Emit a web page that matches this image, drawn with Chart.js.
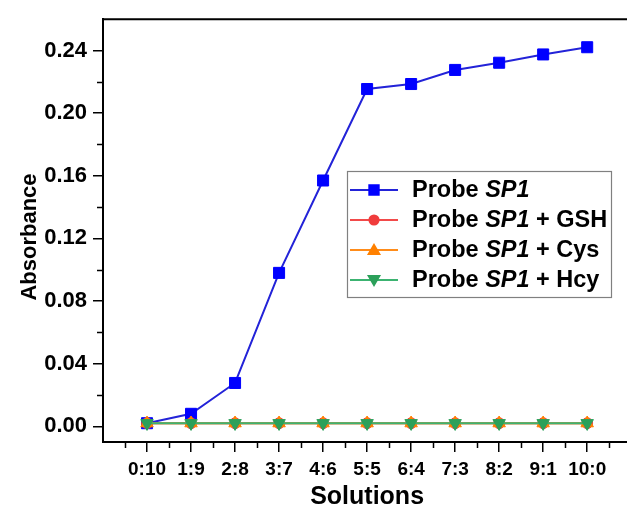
<!DOCTYPE html>
<html>
<head>
<meta charset="utf-8">
<script src="https://cdn.jsdelivr.net/npm/chart.js@4.4.1/dist/chart.umd.min.js"></script>
<style>
  html, body { margin: 0; padding: 0; overflow: hidden; background: #fff; }
</style>
</head>
<body>
<canvas id="absChart" width="640" height="511"></canvas>
<script>
// x categories (volume ratio) and absorbance readings
const solutions = ['0:10', '1:9', '2:8', '3:7', '4:6', '5:5', '6:4', '7:3', '8:2', '9:1', '10:0'];
const probeSP1 = [0.002, 0.008, 0.0277, 0.098, 0.157, 0.2154, 0.2186, 0.2276, 0.2322, 0.2375, 0.2421];
const probeGSH = [0.002, 0.002, 0.002, 0.002, 0.002, 0.002, 0.002, 0.002, 0.002, 0.002, 0.002];
const probeCys = [0.002, 0.002, 0.002, 0.002, 0.002, 0.002, 0.002, 0.002, 0.002, 0.002, 0.002];
const probeHcy = [0.002, 0.002, 0.002, 0.002, 0.002, 0.002, 0.002, 0.002, 0.002, 0.002, 0.002];

const yTicks = [0, 0.04, 0.08, 0.12, 0.16, 0.20, 0.24];
const yMinorTicks = [0.02, 0.06, 0.10, 0.14, 0.18, 0.22];
const xMinorTicks = [-0.5, 0.5, 1.5, 2.5, 3.5, 4.5, 5.5, 6.5, 7.5, 8.5, 9.5, 10.5];

const FONT = '"Liberation Sans", Arial, sans-serif';

const series = [
    { name: ['Probe ', 'SP1', ''], data: probeSP1, line: '#2323d8', fill: '#0000ff', style: 'rect', radius: 7.8, rot: 0, order: 3 },
    { name: ['Probe ', 'SP1', ' + GSH'], data: probeGSH, line: '#f24a4a', fill: '#f03c3c', style: 'circle', radius: 5.4, rot: 0, order: 2 },
    { name: ['Probe ', 'SP1', ' + Cys'], data: probeCys, line: '#ff8c1a', fill: '#ff8000', style: 'triangle', radius: 7.2, rot: 0, order: 1 },
    { name: ['Probe ', 'SP1', ' + Hcy'], data: probeHcy, line: '#3cb371', fill: '#2ca05a', style: 'triangle', radius: 7.2, rot: 180, order: 0 }
];

// box top/right edge, minor ticks, y title and the legend
const extras = {
    id: 'extras',
    afterDraw(chart) {
        const ctx = chart.ctx;
        const area = chart.chartArea;
        const xs = chart.scales.x, ys = chart.scales.y;
        ctx.save();
        ctx.strokeStyle = '#000';
        ctx.lineWidth = 2;
        ctx.beginPath();
        ctx.moveTo(area.left - 1, area.top);
        ctx.lineTo(area.right, area.top);
        ctx.lineTo(area.right, area.bottom);
        ctx.stroke();

        ctx.lineWidth = 1.5;
        ctx.beginPath();
        yMinorTicks.forEach(v => {
            const py = Math.round(ys.getPixelForValue(v)) + 0.5;
            ctx.moveTo(area.left, py);
            ctx.lineTo(area.left - 6, py);
        });
        xMinorTicks.forEach(v => {
            const px = Math.round(xs.getPixelForValue(v)) + 0.5;
            ctx.moveTo(px, area.bottom);
            ctx.lineTo(px, area.bottom + 6);
        });
        ctx.stroke();

        // y axis title, sits a little below the plot centre like the original
        ctx.save();
        ctx.translate(30, 237);
        ctx.rotate(-Math.PI / 2);
        ctx.font = 'bold 22px ' + FONT;
        ctx.fillStyle = '#000';
        ctx.textAlign = 'center';
        ctx.textBaseline = 'middle';
        ctx.fillText('Absorbance', 0, 0);
        ctx.restore();

        // legend
        const lx = 347, ly = 171, lw = 264, lh = 126;
        ctx.fillStyle = '#fff';
        ctx.fillRect(lx, ly, lw, lh);
        ctx.strokeStyle = '#808080';
        ctx.lineWidth = 1.2;
        ctx.strokeRect(lx + 0.5, ly + 0.5, lw, lh);

        series.forEach((s, i) => {
            const cy = 190 + i * 30;
            ctx.strokeStyle = s.line;
            ctx.lineWidth = 2;
            ctx.beginPath();
            ctx.moveTo(350, cy);
            ctx.lineTo(398, cy);
            ctx.stroke();
            ctx.fillStyle = s.fill;
            ctx.strokeStyle = s.fill;
            Chart.helpers.drawPoint(ctx, { pointStyle: s.style, radius: s.radius * 0.85, rotation: s.rot, borderWidth: 1 }, 374, cy + (s.style === 'triangle' ? (s.rot ? -1 : 1) : 0));

            ctx.fillStyle = '#000';
            ctx.textBaseline = 'middle';
            ctx.textAlign = 'left';
            let tx = 412;
            const parts = [['bold 23.5px ' + FONT, s.name[0]], ['italic bold 23.5px ' + FONT, s.name[1]], ['bold 23.5px ' + FONT, s.name[2]]];
            parts.forEach(p => {
                ctx.font = p[0];
                ctx.fillText(p[1], tx, cy + 1);
                tx += ctx.measureText(p[1]).width;
            });
        });
        ctx.restore();
    }
};

new Chart(document.getElementById('absChart'), {
    type: 'line',
    data: {
        datasets: series.map(s => ({
            label: s.name.join(''),
            data: s.data.map((v, i) => ({ x: i, y: v })),
            borderColor: s.line,
            backgroundColor: s.fill,
            pointBorderColor: s.fill,
            borderWidth: 2,
            pointStyle: s.style,
            pointRadius: s.radius,
            pointRotation: s.rot,
            pointBorderWidth: 1,
            tension: 0,
            order: s.order
        }))
    },
    options: {
        responsive: false,
        devicePixelRatio: 1,
        animation: false,
        layout: { padding: { top: 14.5, right: 5.4, left: 0, bottom: 0 } },
        plugins: { legend: { display: false }, tooltip: { enabled: false } },
        scales: {
            x: {
                type: 'linear',
                min: -1,
                max: 11,
                afterBuildTicks: s => { s.ticks = solutions.map((c, i) => ({ value: i })); },
                afterFit: s => { s.height = 69; },
                ticks: {
                    callback: v => solutions[v],
                    font: { family: FONT, size: 19, weight: 'bold' },
                    color: '#000',
                    padding: 6,
                    maxRotation: 0,
                    autoSkip: false
                },
                grid: { drawOnChartArea: false, drawTicks: true, tickLength: 10, color: '#000', lineWidth: 1.5 },
                border: { display: true, color: '#000', width: 2 },
                title: {
                    display: true,
                    text: 'Solutions',
                    color: '#000',
                    font: { family: FONT, size: 25, weight: 'bold', lineHeight: 1 },
                    padding: { top: 0, bottom: 1 }
                }
            },
            y: {
                min: -0.01,
                max: 0.26,
                afterBuildTicks: s => { s.ticks = yTicks.map(v => ({ value: v })); },
                afterFit: s => { s.width = 103; },
                ticks: {
                    callback: v => v.toFixed(2),
                    font: { family: FONT, size: 22, weight: 'bold' },
                    color: '#000',
                    padding: 6
                },
                grid: { drawOnChartArea: false, drawTicks: true, tickLength: 10, color: '#000', lineWidth: 1.5 },
                border: { display: true, color: '#000', width: 2 },
                title: { display: false }
            }
        }
    },
    plugins: [extras]
});
</script>
</body>
</html>
